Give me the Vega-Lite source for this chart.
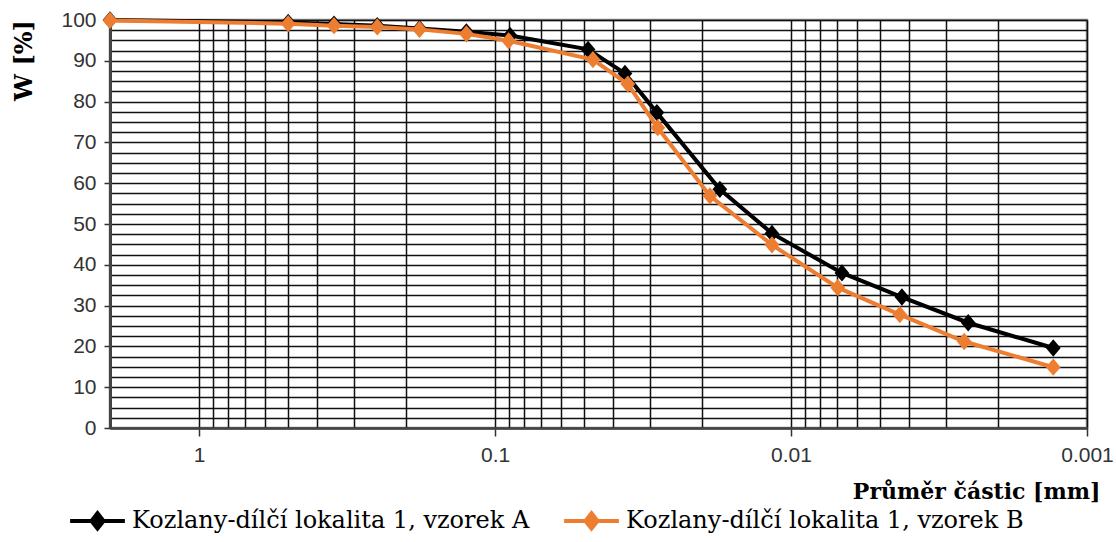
{
  "$schema": "https://vega.github.io/schema/vega-lite/v6.json",
  "width": 977,
  "height": 408,
  "autosize": {"type": "none"},
  "padding": {"left": 110, "top": 20, "right": 29, "bottom": 114},
  "background": "white",
  "config": {
    "view": {"stroke": "#8a8a8a", "strokeWidth": 2.5},
    "legend": {
      "orient": "none",
      "legendX": -42,
      "legendY": 471,
      "direction": "horizontal",
      "columns": 2,
      "title": null,
      "labelFont": "DejaVu Serif",
      "labelFontSize": 24,
      "labelColor": "#000",
      "labelLimit": 0,
      "labelOffset": 5,
      "columnPadding": 26,
      "symbolType": "M-1,0L1,0M0,-0.28L0.22,0L0,0.28L-0.22,0Z",
      "symbolSize": 3000,
      "symbolStrokeWidth": 4
    }
  },
  "data": {
    "values": [
      {"s": "Kozlany-dílčí lokalita 1, vzorek A", "d": 2.0, "w": 100},
      {"s": "Kozlany-dílčí lokalita 1, vzorek A", "d": 0.5, "w": 99.4},
      {"s": "Kozlany-dílčí lokalita 1, vzorek A", "d": 0.35, "w": 99.0},
      {"s": "Kozlany-dílčí lokalita 1, vzorek A", "d": 0.25, "w": 98.6},
      {"s": "Kozlany-dílčí lokalita 1, vzorek A", "d": 0.18, "w": 97.9},
      {"s": "Kozlany-dílčí lokalita 1, vzorek A", "d": 0.125, "w": 97.1},
      {"s": "Kozlany-dílčí lokalita 1, vzorek A", "d": 0.089, "w": 96.2},
      {"s": "Kozlany-dílčí lokalita 1, vzorek A", "d": 0.0485, "w": 92.8},
      {"s": "Kozlany-dílčí lokalita 1, vzorek A", "d": 0.0364, "w": 86.9},
      {"s": "Kozlany-dílčí lokalita 1, vzorek A", "d": 0.0284, "w": 77.3},
      {"s": "Kozlany-dílčí lokalita 1, vzorek A", "d": 0.0174, "w": 58.5},
      {"s": "Kozlany-dílčí lokalita 1, vzorek A", "d": 0.0116, "w": 47.7},
      {"s": "Kozlany-dílčí lokalita 1, vzorek A", "d": 0.00673, "w": 38.0},
      {"s": "Kozlany-dílčí lokalita 1, vzorek A", "d": 0.00422, "w": 32.1},
      {"s": "Kozlany-dílčí lokalita 1, vzorek A", "d": 0.00252, "w": 25.8},
      {"s": "Kozlany-dílčí lokalita 1, vzorek A", "d": 0.0013, "w": 19.6},
      {"s": "Kozlany-dílčí lokalita 1, vzorek B", "d": 2.0, "w": 99.9},
      {"s": "Kozlany-dílčí lokalita 1, vzorek B", "d": 0.5, "w": 99.1},
      {"s": "Kozlany-dílčí lokalita 1, vzorek B", "d": 0.35, "w": 98.6},
      {"s": "Kozlany-dílčí lokalita 1, vzorek B", "d": 0.25, "w": 98.3},
      {"s": "Kozlany-dílčí lokalita 1, vzorek B", "d": 0.18, "w": 97.7},
      {"s": "Kozlany-dílčí lokalita 1, vzorek B", "d": 0.125, "w": 96.6},
      {"s": "Kozlany-dílčí lokalita 1, vzorek B", "d": 0.09, "w": 94.9},
      {"s": "Kozlany-dílčí lokalita 1, vzorek B", "d": 0.0467, "w": 90.3},
      {"s": "Kozlany-dílčí lokalita 1, vzorek B", "d": 0.0356, "w": 84.3},
      {"s": "Kozlany-dílčí lokalita 1, vzorek B", "d": 0.0282, "w": 73.6},
      {"s": "Kozlany-dílčí lokalita 1, vzorek B", "d": 0.0188, "w": 56.9},
      {"s": "Kozlany-dílčí lokalita 1, vzorek B", "d": 0.0116, "w": 44.9},
      {"s": "Kozlany-dílčí lokalita 1, vzorek B", "d": 0.00695, "w": 34.4},
      {"s": "Kozlany-dílčí lokalita 1, vzorek B", "d": 0.00429, "w": 27.8},
      {"s": "Kozlany-dílčí lokalita 1, vzorek B", "d": 0.0026, "w": 21.2},
      {"s": "Kozlany-dílčí lokalita 1, vzorek B", "d": 0.0013, "w": 14.9}
    ]
  },
  "resolve": {"axis": {"x": "independent", "y": "independent"}},
  "layer": [
    {
      "transform": [{"filter": "datum.s === 'Kozlany-dílčí lokalita 1, vzorek A'"}],
      "mark": {"type": "line", "strokeWidth": 4},
      "encoding": {
        "x": {
          "field": "d", "type": "quantitative",
          "scale": {"type": "log", "domain": [0.001, 2], "reverse": true, "nice": false},
          "axis": {
            "orient": "bottom",
            "values": [1, 0.1, 0.01, 0.001],
            "format": ".3~f",
            "grid": false,
            "ticks": true, "tickSize": 8, "tickColor": "#333", "tickWidth": 1.5,
            "domainColor": "#444", "domainWidth": 2.5,
            "labelFont": "Liberation Sans", "labelFontSize": 21, "labelColor": "#333",
            "labelPadding": 8, "labelFlush": false,
            "title": "Průměr částic [mm]",
            "titleFont": "DejaVu Serif", "titleFontSize": 22, "titleFontWeight": "bold",
            "titleColor": "#000",
            "titleAlign": "right", "titleBaseline": "alphabetic",
            "titleX": 990, "titleY": 70
          }
        },
        "y": {
          "field": "w", "type": "quantitative",
          "scale": {"domain": [0, 100], "nice": false},
          "axis": {
            "orient": "left",
            "values": [0, 10, 20, 30, 40, 50, 60, 70, 80, 90, 100],
            "grid": false,
            "ticks": true, "tickSize": 6, "tickColor": "#333", "tickWidth": 1.5,
            "domainColor": "#444", "domainWidth": 3,
            "labelFont": "Liberation Sans", "labelFontSize": 21, "labelColor": "#333",
            "labelPadding": 8,
            "title": "W [%]",
            "titleFont": "DejaVu Serif", "titleFontSize": 24, "titleFontWeight": "bold",
            "titleColor": "#000",
            "titleAngle": -90, "titleAlign": "center", "titleBaseline": "middle",
            "titleX": -86, "titleY": 40
          }
        },
        "color": {
          "field": "s", "type": "nominal",
          "scale": {
            "domain": ["Kozlany-dílčí lokalita 1, vzorek A", "Kozlany-dílčí lokalita 1, vzorek B"],
            "range": ["#000000", "#ED7D31"]
          },
          "legend": {
            "encode": {"symbols": {"update": {"fill": {"scale": "color", "field": "value"}, "stroke": {"scale": "color", "field": "value"}}}}
          }
        }
      }
    },
    {
      "transform": [{"filter": "datum.s === 'Kozlany-dílčí lokalita 1, vzorek A'"}],
      "mark": {"type": "point", "shape": "M0,-1L0.85,0L0,1L-0.85,0Z", "filled": true, "size": 300, "opacity": 1},
      "encoding": {
        "x": {
          "field": "d", "type": "quantitative",
          "axis": {
            "orient": "top",
            "values": [2, 1, 0.9, 0.8, 0.7, 0.6, 0.5, 0.4, 0.3, 0.2, 0.1, 0.09, 0.08, 0.07, 0.06, 0.05, 0.04, 0.03, 0.02, 0.01, 0.009, 0.008, 0.007, 0.006, 0.005, 0.004, 0.003, 0.002, 0.001],
            "grid": true, "gridColor": "#111", "gridWidth": 1.5,
            "labels": false, "ticks": false, "domain": false, "title": null
          }
        },
        "y": {
          "field": "w", "type": "quantitative",
          "axis": {
            "orient": "right",
            "values": [0, 2.5, 5, 7.5, 10, 12.5, 15, 17.5, 20, 22.5, 25, 27.5, 30, 32.5, 35, 37.5, 40, 42.5, 45, 47.5, 50, 52.5, 55, 57.5, 60, 62.5, 65, 67.5, 70, 72.5, 75, 77.5, 80, 82.5, 85, 87.5, 90, 92.5, 95, 97.5, 100],
            "grid": true, "gridColor": "#111", "gridWidth": 1.5,
            "labels": false, "ticks": false, "domain": false, "title": null
          }
        },
        "color": {"field": "s", "type": "nominal"}
      }
    },
    {
      "transform": [{"filter": "datum.s === 'Kozlany-dílčí lokalita 1, vzorek B'"}],
      "mark": {"type": "line", "strokeWidth": 4},
      "encoding": {
        "x": {"field": "d", "type": "quantitative", "axis": null},
        "y": {"field": "w", "type": "quantitative", "axis": null},
        "color": {"field": "s", "type": "nominal"}
      }
    },
    {
      "transform": [{"filter": "datum.s === 'Kozlany-dílčí lokalita 1, vzorek B'"}],
      "mark": {"type": "point", "shape": "M0,-1L0.85,0L0,1L-0.85,0Z", "filled": true, "size": 300, "opacity": 1},
      "encoding": {
        "x": {"field": "d", "type": "quantitative", "axis": null},
        "y": {"field": "w", "type": "quantitative", "axis": null},
        "color": {"field": "s", "type": "nominal"}
      }
    }
  ]
}
